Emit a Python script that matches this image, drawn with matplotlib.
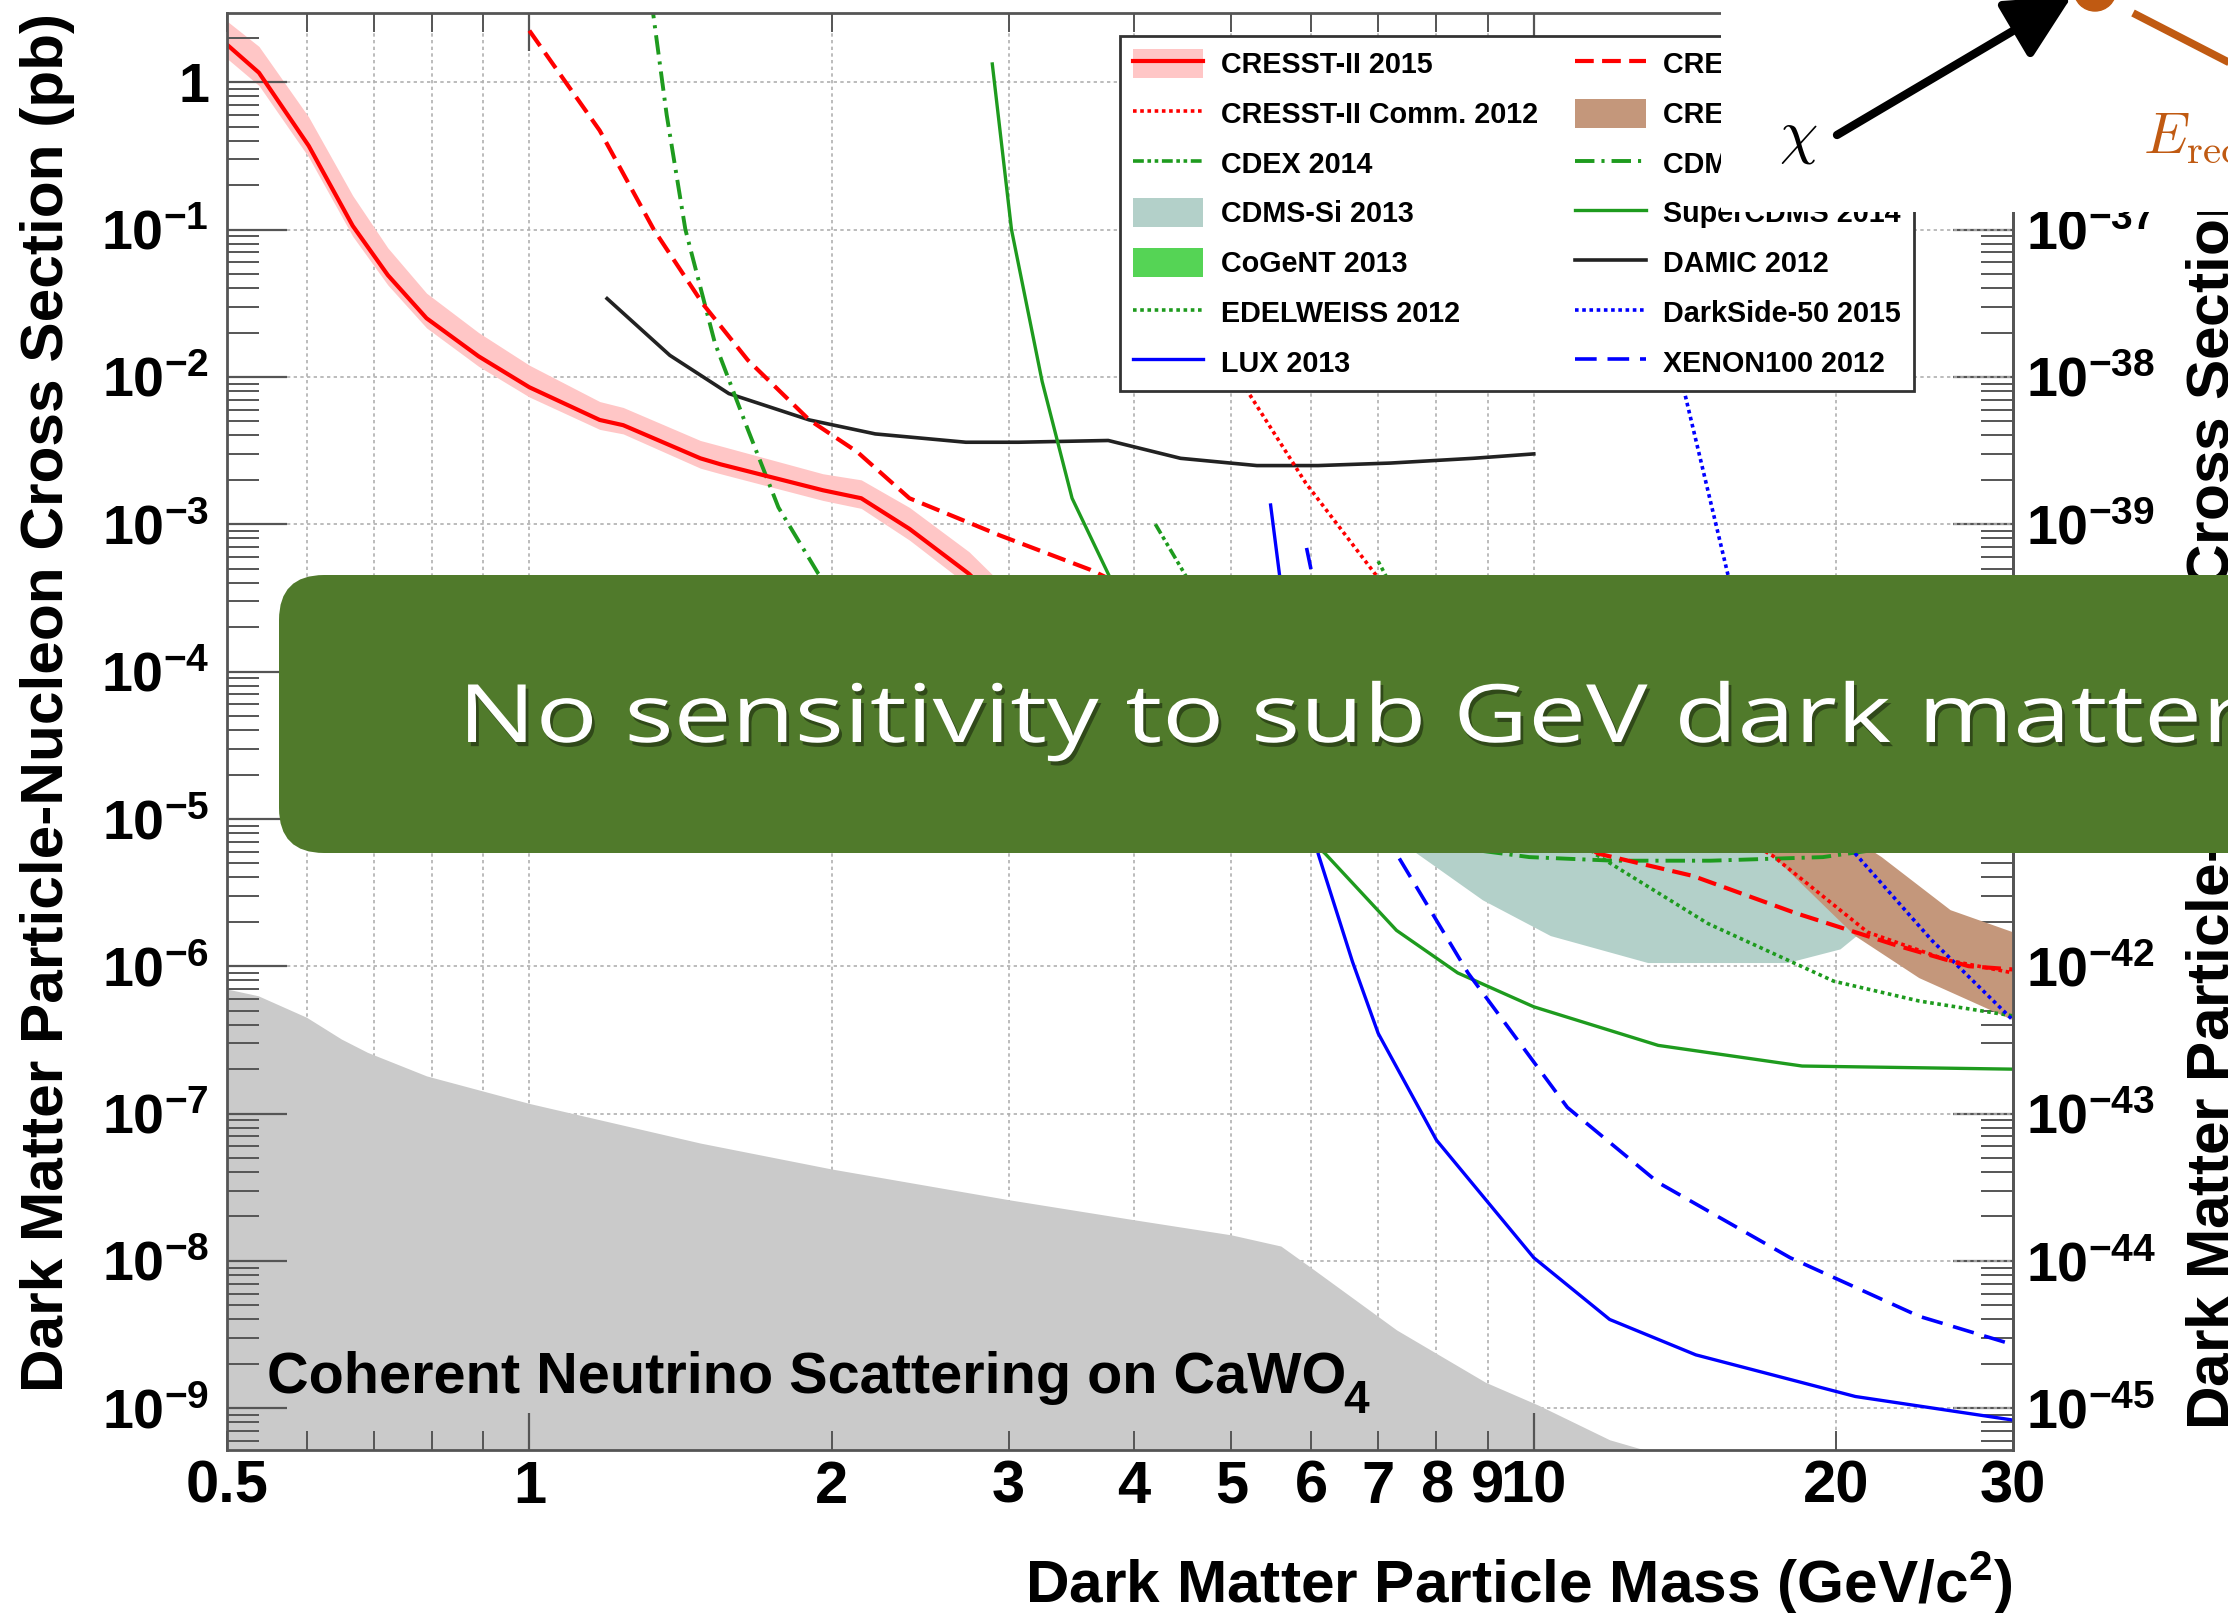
import numpy as np
import matplotlib
matplotlib.use("Agg")
import matplotlib.pyplot as plt
import matplotlib.patheffects as pe
from matplotlib.patches import Patch, Rectangle, Circle, FancyBboxPatch, FancyArrowPatch
from matplotlib.lines import Line2D
from matplotlib.ticker import FixedLocator, FixedFormatter, FuncFormatter, LogLocator, NullFormatter
from matplotlib.transforms import IdentityTransform, Affine2D

plt.rcParams['font.family'] = ['Liberation Sans', 'DejaVu Sans']
plt.rcParams['font.weight'] = 'bold'
plt.rcParams['mathtext.fontset'] = 'custom'
plt.rcParams['mathtext.rm'] = 'Liberation Sans:bold'
plt.rcParams['mathtext.it'] = 'Liberation Sans:italic:bold'
plt.rcParams['mathtext.bf'] = 'Liberation Sans:bold'
plt.rcParams['mathtext.default'] = 'rm'

W, H = 2228, 1613

# ---- exclusion limits (mass in GeV/c^2, cross section in pb) ----
cresst15_x = [0.5, 0.538, 0.603, 0.667, 0.723, 0.79, 0.89, 1.0, 1.175, 1.24, 1.48, 1.55, 1.96, 2.14,
              2.39, 2.74, 3.2, 4.0, 5.0, 7.0, 10.0, 15.0, 20.0, 30.0]
cresst15_y = [1.8, 1.16, 0.37, 0.106, 0.049, 0.025, 0.0138, 0.0085, 0.0051, 0.0047, 0.0028, 0.00255,
              0.0017, 0.0015, 9.3e-4, 4.6e-4, 1.6e-4, 7e-5, 4e-5, 2.5e-5, 1.8e-5, 1.4e-5, 1.3e-5, 1.2e-5]
cresst15_hi = [2.6, 1.75, 0.58, 0.17, 0.075, 0.037, 0.02, 0.012, 0.0068, 0.0062, 0.0037, 0.0034,
               0.0022, 0.002, 0.0013, 6.5e-4, 2.3e-4, 1e-4, 5.6e-5, 3.5e-5, 2.5e-5, 1.9e-5, 1.8e-5, 1.7e-5]
cresst15_lo = [1.45, 0.95, 0.31, 0.09, 0.042, 0.0215, 0.0118, 0.0073, 0.0044, 0.0041, 0.0024, 0.0022,
               0.00145, 0.00128, 7.8e-4, 3.8e-4, 1.3e-4, 5.8e-5, 3.3e-5, 2.1e-5, 1.5e-5, 1.2e-5, 1.1e-5, 1e-5]

cresst14_x = [1.0, 1.175, 1.33, 1.49, 1.65, 1.9, 2.12, 2.39, 2.94, 3.62, 5.0, 7.0, 9.0, 11.6, 14.4,
              18.2, 23.0, 27.1, 30.0]
cresst14_y = [2.24, 0.47, 0.1, 0.031, 0.013, 0.0051, 0.0031, 0.0015, 8.4e-4, 4.9e-4, 1.7e-4, 5e-5,
              1.6e-5, 5.8e-6, 4.1e-6, 2.3e-6, 1.38e-6, 1.0e-6, 9.5e-7]

cresst12c_x = [5.17, 5.93, 6.95, 9.0, 12.0, 15.0, 17.3, 21.5, 25.8, 30.0]
cresst12c_y = [0.0083, 0.0019, 4.6e-4, 8e-5, 2.5e-5, 1e-5, 5.6e-6, 1.7e-6, 1.1e-6, 9e-7]

cresst12_x = [11.0, 14.0, 17.3, 20.9, 24.2, 30.0, 30.0, 26.0, 22.2, 19.0, 15.0, 12.0]
cresst12_y = [3.0e-5, 1.4e-5, 5.6e-6, 1.6e-6, 8.3e-7, 4.3e-7, 1.7e-6, 2.4e-6, 5.5e-6, 1.1e-5, 3.0e-5, 6.0e-5]

cdex_x = [4.2, 4.5, 5.0, 6.0, 8.0, 10.0, 15.0, 20.0, 30.0]
cdex_y = [1e-3, 4.5e-4, 1.5e-4, 6e-5, 2.5e-5, 1.5e-5, 1e-5, 9e-6, 8e-6]

cdmslite_x = [1.32, 1.37, 1.43, 1.53, 1.65, 1.77, 1.94, 2.5, 4.0, 7.0, 9.9, 12.0, 15.0, 19.4, 25.0]
cdmslite_y = [4.0, 0.6, 0.1, 0.017, 0.0044, 0.0013, 4.6e-4, 6e-5, 1.5e-5, 7.5e-6, 5.5e-6, 5.2e-6,
              5.2e-6, 5.5e-6, 7e-6]

cdmssi_x = [7.6, 8.9, 10.4, 13.0, 17.9, 20.2, 21.2, 20.5, 19.6, 17.9, 16.0, 13.0, 10.0, 8.0, 7.0, 6.7, 7.0]
cdmssi_y = [6e-6, 2.8e-6, 1.6e-6, 1.05e-6, 1.05e-6, 1.3e-6, 1.7e-6, 2.4e-6, 3e-6, 4.8e-6, 8e-6,
            1.8e-5, 4e-5, 5.5e-5, 4e-5, 2e-5, 9e-6]

cogent_x = [6.5, 7.5, 9.0, 10.0, 9.0, 7.5, 6.5]
cogent_y = [5e-5, 3e-5, 2.2e-5, 3e-5, 5e-5, 8e-5, 7e-5]

edelweiss_x = [7.0, 8.0, 9.5, 11.5, 14.9, 19.9, 24.2, 30.0]
edelweiss_y = [5.6e-4, 1e-4, 2.2e-5, 5.8e-6, 1.95e-6, 7.9e-7, 5.8e-7, 4.6e-7]

lux_x = [5.47, 5.7, 5.9, 6.1, 6.6, 7.0, 8.0, 10.0, 11.9, 14.5, 20.9, 30.0]
lux_y = [1.35e-3, 1.5e-4, 2.5e-5, 5.8e-6, 1.07e-6, 3.5e-7, 6.6e-8, 1.05e-8, 4e-9, 2.3e-9, 1.2e-9, 8.3e-10]

xenon_x = [5.94, 6.3, 6.8, 7.3, 8.6, 10.8, 13.3, 18.0, 24.2, 30.0]
xenon_y = [6.9e-4, 1e-4, 2e-5, 5.8e-6, 9e-7, 1.1e-7, 3.4e-8, 1.05e-8, 4.2e-9, 2.7e-9]

scdms_x = [2.89, 3.02, 3.24, 3.47, 3.77, 4.3, 5.0, 5.6, 6.2, 7.3, 8.4, 10.0, 13.3, 18.5, 30.0]
scdms_y = [1.33, 0.1, 9.3e-3, 1.5e-3, 4.6e-4, 7e-5, 2.5e-5, 1.1e-5, 5.8e-6, 1.75e-6, 9e-7, 5.3e-7,
           2.9e-7, 2.1e-7, 2.0e-7]

damic_x = [1.195, 1.38, 1.58, 1.90, 2.21, 2.72, 3.07, 3.77, 4.45, 5.3, 6.1, 7.2, 8.7, 10.0]
damic_y = [0.034, 0.014, 0.0077, 0.0051, 0.0041, 0.0036, 0.0036, 0.0037, 0.0028, 0.0025, 0.0025,
           0.0026, 0.0028, 0.003]

darkside_x = [14.1, 15.6, 17.0, 19.0, 20.9, 24.9, 30.0]
darkside_y = [0.0083, 4.6e-4, 8e-5, 2e-5, 5.8e-6, 1.5e-6, 4.3e-7]

nu_x = [0.5, 0.537, 0.6, 0.65, 0.69, 0.79, 1.0, 1.48, 2.0, 3.0, 4.0, 5.0, 5.6, 6.0, 7.3, 8.95, 10.1,
        11.9, 12.9, 14.0]
nu_y = [7e-7, 6.3e-7, 4.5e-7, 3.2e-7, 2.6e-7, 1.8e-7, 1.17e-7, 6.3e-8, 4.2e-8, 2.6e-8, 1.9e-8, 1.5e-8,
        1.26e-8, 9e-9, 3.4e-9, 1.5e-9, 1.05e-9, 6.1e-10, 5.2e-10, 3.5e-10]

# axis ticks
x_major = [1, 10]
x_minor = [0.5, 0.6, 0.7, 0.8, 0.9, 2, 3, 4, 5, 6, 7, 8, 9, 20, 30]
x_minor_labels = ['0.5', '', '', '', '', '2', '3', '4', '5', '6', '7', '8', '9', '20', '30']
y_decades = [1e-9, 1e-8, 1e-7, 1e-6, 1e-5, 1e-4, 1e-3, 1e-2, 1e-1, 1]

RED, GREEN, BLUE = '#FF0000', '#1E9B1E', '#0000FF'
PINK, TEAL, BROWN, LGREEN, GREY = '#FFC6C6', '#B3D0C9', '#C4977B', '#55D455', '#CACACA'
TICK = '#555555'


class Stretched(pe.AbstractPathEffect):
    """Run another path effect on text squeezed/widened along its baseline."""

    def __init__(self, inner, sx):
        super().__init__()
        self._inner = inner
        self._sx = sx

    def draw_path(self, renderer, gc, tpath, affine, rgbFace=None):
        self._inner.draw_path(renderer, gc, tpath, Affine2D().scale(self._sx, 1) + affine, rgbFace)


fig = plt.figure(figsize=(W / 100, H / 100), dpi=100)
ax = fig.add_axes([227 / W, 1 - 1450 / H, 1786 / W, 1437 / H])
ax.set_xscale('log')
ax.set_yscale('log')
ax.set_xlim(0.5, 30)
ax.set_ylim(5.2e-10, 2.95)

# dotted grid under everything
for xv in x_major + x_minor[1:-1]:
    ax.axvline(xv, color='#B0B0B0', lw=1.2, ls=(0, (2, 2)), zorder=0.5)
for yv in y_decades:
    ax.axhline(yv, color='#B0B0B0', lw=1.2, ls=(0, (2, 2)), zorder=0.5)

# filled regions
ax.fill(cdmssi_x, cdmssi_y, color=TEAL, lw=0, zorder=1)
ax.fill(cresst12_x, cresst12_y, color=BROWN, lw=0, zorder=1.1)
ax.fill(cogent_x, cogent_y, color=LGREEN, lw=0, zorder=1)
ax.fill_between(nu_x, 1e-12, nu_y, color=GREY, lw=0, zorder=1.2)
ax.fill_between(cresst15_x, cresst15_lo, cresst15_hi, color=PINK, lw=0, zorder=1.3)

# limit curves
styles = {
    'cresst15': dict(color=RED, lw=3),
    'cresst12c': dict(color=RED, lw=2.6, ls=(0, (1, 1))),
    'cdex': dict(color=GREEN, lw=2.6, ls=(0, (3, 1, 1, 1, 1, 1))),
    'edelweiss': dict(color=GREEN, lw=2.6, ls=(0, (1, 1))),
    'lux': dict(color=BLUE, lw=2.4),
    'cresst14': dict(color=RED, lw=3, ls=(0, (4.5, 2))),
    'cdmslite': dict(color=GREEN, lw=2.8, ls=(0, (5, 1.8, 0.8, 1.8))),
    'scdms': dict(color=GREEN, lw=2.4),
    'damic': dict(color='#222222', lw=2.6),
    'darkside': dict(color=BLUE, lw=2.6, ls=(0, (1, 1))),
    'xenon': dict(color=BLUE, lw=2.6, ls=(0, (6, 3))),
}
ax.plot(damic_x, damic_y, zorder=2, **styles['damic'])
ax.plot(cdmslite_x, cdmslite_y, zorder=2, **styles['cdmslite'])
ax.plot(cdex_x, cdex_y, zorder=2, **styles['cdex'])
ax.plot(scdms_x, scdms_y, zorder=2, **styles['scdms'])
ax.plot(edelweiss_x, edelweiss_y, zorder=2, **styles['edelweiss'])
ax.plot(darkside_x, darkside_y, zorder=2, **styles['darkside'])
ax.plot(xenon_x, xenon_y, zorder=2, **styles['xenon'])
ax.plot(lux_x, lux_y, zorder=2, **styles['lux'])
ax.plot(cresst12c_x, cresst12c_y, zorder=2.1, **styles['cresst12c'])
ax.plot(cresst14_x, cresst14_y, zorder=2.1, **styles['cresst14'])
ax.plot(cresst15_x, cresst15_y, zorder=2.2, **styles['cresst15'])

# ROOT-like axes
for s in ax.spines.values():
    s.set_color(TICK)
    s.set_linewidth(2)
ax.xaxis.set_major_locator(FixedLocator(x_major))
ax.xaxis.set_major_formatter(FixedFormatter(['1', '10']))
ax.xaxis.set_minor_locator(FixedLocator(x_minor))
ax.xaxis.set_minor_formatter(FixedFormatter(x_minor_labels))


def decade_label(v, pos):
    e = int(round(np.log10(v)))
    return '1' if e == 0 else r'$10^{%d}$' % e


ax.yaxis.set_major_locator(FixedLocator(y_decades))
ax.yaxis.set_major_formatter(FuncFormatter(decade_label))
ax.yaxis.set_minor_locator(LogLocator(base=10, subs=np.arange(2, 10), numticks=200))
ax.yaxis.set_minor_formatter(NullFormatter())

ax.tick_params(axis='x', which='both', direction='in', top=True, color=TICK, pad=7, labelsize=43)
ax.tick_params(axis='x', which='major', length=27, width=1.6)
ax.tick_params(axis='x', which='minor', length=14, width=1.4)
ax.tick_params(axis='y', which='both', direction='in', left=True, right=False, color=TICK, pad=13,
               labelsize=40)
ax.tick_params(axis='y', which='major', length=43, width=1.6)
ax.tick_params(axis='y', which='minor', length=23, width=1.4)

sec = ax.secondary_yaxis('right', functions=(lambda v: v * 1e-36, lambda v: v * 1e36))
sec.yaxis.set_major_locator(LogLocator(base=10, numticks=40))
sec.yaxis.set_major_formatter(FuncFormatter(decade_label))
sec.yaxis.set_minor_locator(LogLocator(base=10, subs=np.arange(2, 10), numticks=400))
sec.yaxis.set_minor_formatter(NullFormatter())
sec.tick_params(which='both', direction='in', color=TICK, pad=9, labelsize=40)
sec.tick_params(which='major', length=43, width=1.6)
sec.tick_params(which='minor', length=23, width=1.4)
sec.spines['right'].set_color(TICK)
sec.spines['right'].set_linewidth(2)

ax.text(-0.085, 1.0, 'Dark Matter Particle-Nucleon Cross Section (pb)', transform=ax.transAxes,
        rotation=90, rotation_mode='anchor', ha='right', va='bottom', fontsize=43.5)
ax.text(1.0918, 1.0, 'Dark Matter Particle-Nucleon Cross Section (cm$^2$)', transform=ax.transAxes,
        rotation=90, rotation_mode='anchor', ha='right', va='top', fontsize=43.5)
ax.text(1.0, -0.1065, 'Dark Matter Particle Mass (GeV/c$^2$)', transform=ax.transAxes,
        ha='right', va='baseline', fontsize=43.5)

nu_label = ax.text(0.548, 1.26e-9, 'Coherent Neutrino Scattering on CaWO', fontsize=41.5,
                   ha='left', va='baseline', zorder=3)
ax.annotate('4', xy=(1, 0), xycoords=nu_label, xytext=(-2, 19), textcoords='offset points',
            ha='left', va='top', fontsize=33, zorder=3)

# legend
handles = [
    (Patch(fc=PINK, ec='none'), Line2D([], [], **styles['cresst15'])),
    Line2D([], [], **styles['cresst12c']),
    Line2D([], [], **styles['cdex']),
    Patch(fc=TEAL, ec='none'),
    Patch(fc=LGREEN, ec='none'),
    Line2D([], [], **styles['edelweiss']),
    Line2D([], [], **styles['lux']),
    Line2D([], [], **styles['cresst14']),
    Patch(fc=BROWN, ec='none'),
    Line2D([], [], **styles['cdmslite']),
    Line2D([], [], **styles['scdms']),
    Line2D([], [], **styles['damic']),
    Line2D([], [], **styles['darkside']),
    Line2D([], [], **styles['xenon']),
]
labels = ['CRESST-II 2015', 'CRESST-II Comm. 2012', 'CDEX 2014', 'CDMS-Si 2013', 'CoGeNT 2013',
          'EDELWEISS 2012', 'LUX 2013', 'CRESST-II 2014', 'CRESST-II 2012', 'CDMSlite 2014',
          'SuperCDMS 2014', 'DAMIC 2012', 'DarkSide-50 2015', 'XENON100 2012']
leg = ax.legend(handles, labels, ncol=2, loc='upper left', bbox_to_anchor=(0.5, 0.984),
                borderaxespad=0, fontsize=20.7, handlelength=2.45, handleheight=1.2,
                handletextpad=0.6, labelspacing=0.67, columnspacing=1.3, borderpad=0.45,
                fancybox=False, framealpha=1, edgecolor='#333333')
leg.get_frame().set_linewidth(2)
leg.set_zorder(5)

# slide overlay: scattering sketch in the corner
px = IdentityTransform()
fig.add_artist(Rectangle((1721, H - 212), W - 1721, 212, transform=px, fc='white', ec='none', zorder=10))
ORANGE = '#C05A12'
fig.add_artist(FancyArrowPatch((1837, H - 135), (2072, H + 4), transform=px,
                               arrowstyle='-|>,head_length=0.8,head_width=0.4', mutation_scale=50,
                               lw=6, color='black', shrinkA=0, shrinkB=0, zorder=12))
fig.add_artist(Circle((2095, H + 10), 21, transform=px, color=ORANGE, zorder=12))
fig.add_artist(Line2D([2133, 2300], [H - 13, H - 99], transform=px, color=ORANGE, lw=5.5,
                      solid_capstyle='butt', zorder=12))
fig.text(1798 / W, 1 - 138 / H, r'$\chi$', math_fontfamily='cm', fontsize=44, ha='center',
         va='center', zorder=12)
fig.text(2143 / W, 1 - 153 / H, r'$\mathit{E}_{\rm recoil}$', math_fontfamily='cm', fontsize=42,
         color=ORANGE, ha='left', va='baseline', zorder=12)

# green banner
fig.add_artist(FancyBboxPatch((279, H - 853), 2300 - 279, 278, transform=px,
                              boxstyle='round,pad=0,rounding_size=45', fc='#507A2B', ec='none',
                              zorder=11))
fig.text(458 / W, 1 - 742 / H, 'No sensitivity to sub GeV dark matter', family='Open Sans',
         weight='normal', fontsize=58, color='white', ha='left', va='baseline', zorder=12,
         path_effects=[Stretched(pe.SimplePatchShadow(offset=(2, -3), shadow_rgbFace='black', alpha=0.4), 1.28),
                       Stretched(pe.Normal(), 1.28)])

fig.savefig('out.png', dpi=100)
